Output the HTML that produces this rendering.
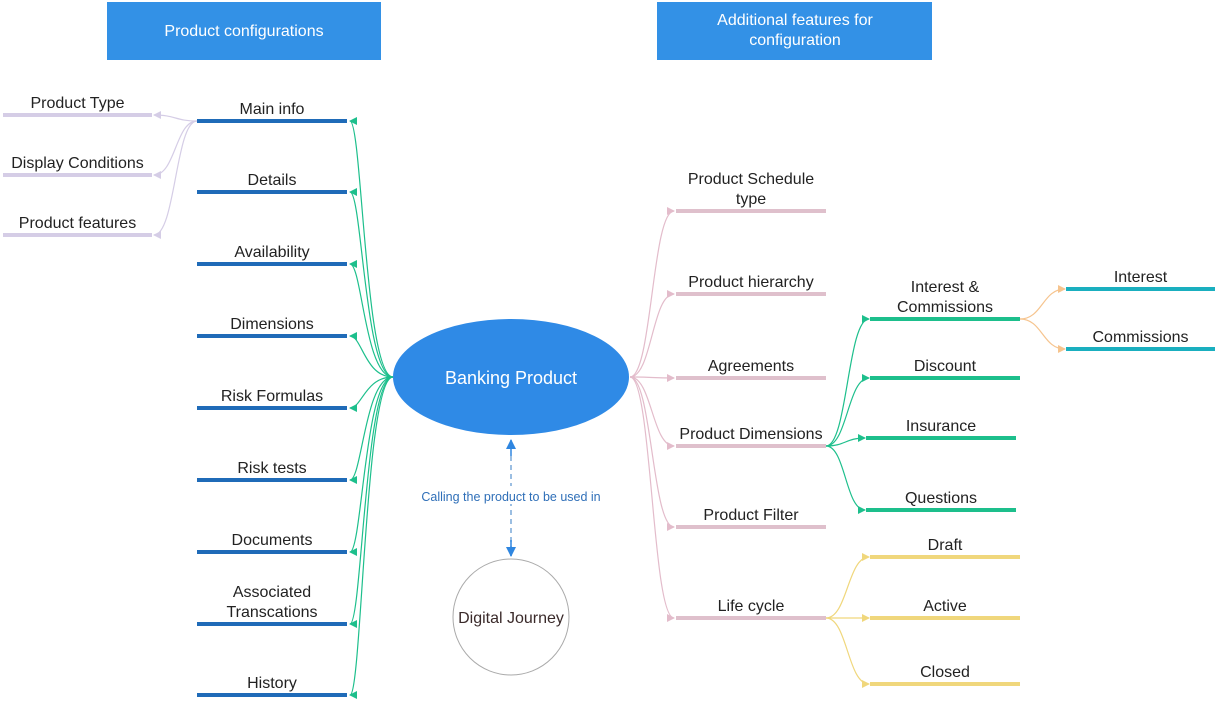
<!DOCTYPE html>
<html><head><meta charset="utf-8"><style>
html,body{margin:0;padding:0;background:#fff;width:1219px;height:701px;overflow:hidden}
svg text{font-family:"Liberation Sans",sans-serif}
</style></head><body>
<svg id="s" width="1219" height="701" xmlns="http://www.w3.org/2000/svg">
<defs>
<marker id="mg" markerWidth="8" markerHeight="8" refX="7" refY="4" orient="auto" markerUnits="userSpaceOnUse"><path d="M0,0 L8,4 L0,8z" fill="#1dbf8c"/></marker>
<marker id="mp" markerWidth="8" markerHeight="8" refX="7" refY="4" orient="auto" markerUnits="userSpaceOnUse"><path d="M0,0 L8,4 L0,8z" fill="#d5cde6"/></marker>
<marker id="mk" markerWidth="8" markerHeight="8" refX="7" refY="4" orient="auto" markerUnits="userSpaceOnUse"><path d="M0,0 L8,4 L0,8z" fill="#e3bccb"/></marker>
<marker id="mo" markerWidth="8" markerHeight="8" refX="7" refY="4" orient="auto" markerUnits="userSpaceOnUse"><path d="M0,0 L8,4 L0,8z" fill="#f6c48e"/></marker>
<marker id="my" markerWidth="8" markerHeight="8" refX="7" refY="4" orient="auto" markerUnits="userSpaceOnUse"><path d="M0,0 L8,4 L0,8z" fill="#f0d77c"/></marker>
<marker id="mb" markerWidth="10" markerHeight="10" refX="9" refY="5" orient="auto" markerUnits="userSpaceOnUse"><path d="M0,0 L10,5 L0,10z" fill="#2f86e0"/></marker>
</defs>
<rect x="107" y="2" width="274" height="58" fill="#3391e6"/>
<text x="244" y="36" text-anchor="middle" fill="#fff" font-size="16">Product configurations</text>
<rect x="657" y="2" width="275" height="58" fill="#3391e6"/>
<text x="795" y="25" text-anchor="middle" fill="#fff" font-size="16">Additional features for</text>
<text x="795" y="45" text-anchor="middle" fill="#fff" font-size="16">configuration</text>
<g id="g"></g>
<ellipse cx="511" cy="377" rx="118" ry="58" fill="#2f8ae6"/>
<text x="511" y="384" text-anchor="middle" fill="#fff" font-size="18">Banking Product</text>
<circle cx="511" cy="617" r="58" fill="#fff" stroke="#aaa" stroke-width="1"/>
<text x="511" y="623" text-anchor="middle" fill="#3a2a2a" font-size="16">Digital Journey</text>
<line x1="511" y1="456" x2="511" y2="440" stroke="#2f86e0" stroke-width="1.5" marker-end="url(#mb)"/>
<line x1="511" y1="456" x2="511" y2="556" stroke="#7aa8d8" stroke-width="1.5" stroke-dasharray="5,4"/>
<line x1="511" y1="540" x2="511" y2="556" stroke="#2f86e0" stroke-width="1.5" marker-end="url(#mb)"/>
<rect x="412" y="486" width="198" height="18" fill="#fff"/>
<text x="511" y="501" text-anchor="middle" fill="#2f6fb8" font-size="12.5">Calling the product to be used in</text>
</svg>
<script>
var g=document.getElementById('g'),ns='http://www.w3.org/2000/svg';
function el(t,a,txt){var e=document.createElementNS(ns,t);for(var k in a)e.setAttribute(k,a[k]);if(txt)e.textContent=txt;g.appendChild(e);return e;}
function bar(x1,x2,y,c,labels){el('line',{x1:x1,x2:x2,y1:y,y2:y,stroke:c,'stroke-width':4});
 var cx=(x1+x2)/2;labels.forEach(function(l,i){el('text',{x:cx,y:y-7-(labels.length-1-i)*20,'text-anchor':'middle','font-size':16,fill:'#222'},l);});}
function conn(x0,y0,x1,y1,c,m){var mx=(x0+x1)/2;el('path',{d:'M'+x0+','+y0+' C'+mx+','+y0+' '+mx+','+y1+' '+x1+','+y1,fill:'none',stroke:c,'stroke-width':1.2,'marker-end':'url(#'+m+')'});}
var L=[[121,['Main info']],[192,['Details']],[264,['Availability']],[336,['Dimensions']],[408,['Risk Formulas']],[480,['Risk tests']],[552,['Documents']],[624,['Associated','Transcations']],[695,['History']]];
L.forEach(function(a){bar(197,347,a[0],'#1f6bb8',a[1]);el('path',{d:'M393,377 C365,377 362,'+a[0]+' 350,'+a[0],fill:'none',stroke:'#1dbf8c','stroke-width':1.2,'marker-end':'url(#mg)'});});
[[115,'Product Type'],[175,'Display Conditions'],[235,'Product features']].forEach(function(a){bar(3,152,a[0],'#d5cde6',[a[1]]);conn(197,121,154,a[0],'#d5cde6','mp');});
var R=[[211,['Product Schedule','type']],[294,['Product hierarchy']],[378,['Agreements']],[446,['Product Dimensions']],[527,['Product Filter']],[618,['Life cycle']]];
R.forEach(function(a){bar(676,826,a[0],'#dfc0cc',a[1]);conn(630,377,674,a[0],'#e3bccb','mk');});
[[319,870,1020,['Interest &','Commissions']],[378,870,1020,['Discount']],[438,866,1016,['Insurance']],[510,866,1016,['Questions']]].forEach(function(a){bar(a[1],a[2],a[0],'#1dbf8c',a[3]);conn(826,446,a[1]-1,a[0],'#1dbf8c','mg');});
[[289,'Interest'],[349,'Commissions']].forEach(function(a){bar(1066,1215,a[0],'#1aafbf',[a[1]]);conn(1020,319,1065,a[0],'#f6c48e','mo');});
[[557,'Draft'],[618,'Active'],[684,'Closed']].forEach(function(a){bar(870,1020,a[0],'#f0d77c',[a[1]]);conn(826,618,869,a[0],'#f0d77c','my');});
</script>
</body></html>
